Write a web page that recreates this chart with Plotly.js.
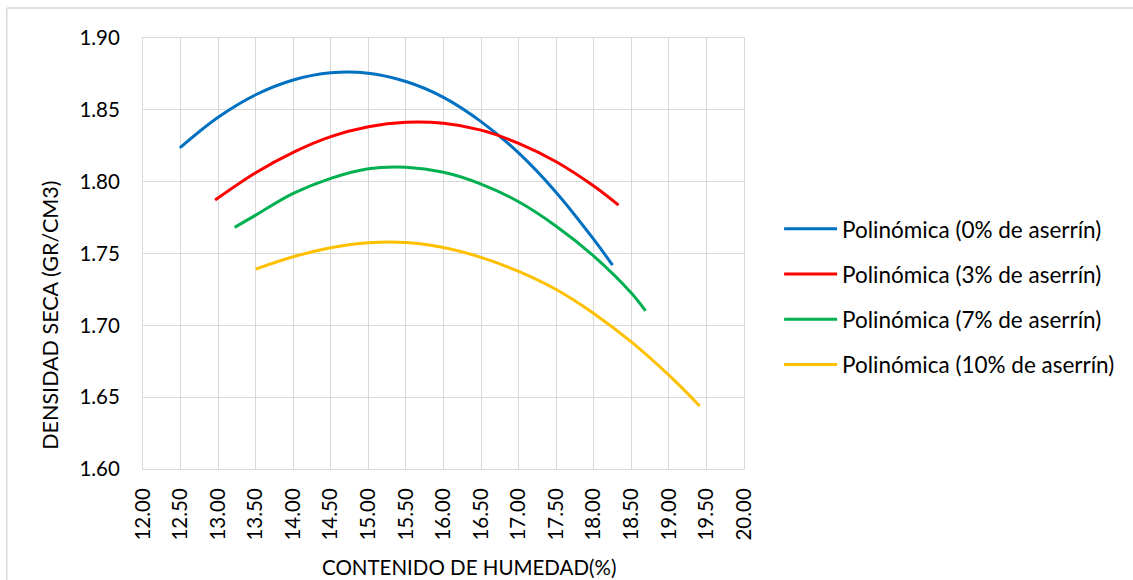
<!DOCTYPE html>
<html>
<head>
<meta charset="utf-8">
<script src="https://cdn.plot.ly/plotly-3.0.1.min.js"></script>
<style>
html,body{margin:0;padding:0;background:#fff;}
#chart{width:1133px;height:580px;}
</style>
</head>
<body>
<div id="chart"></div>
<script>
// Trendline readings (humidity %, dry density g/cm3)
const x0 = [12.49, 13.0, 13.5, 14.0, 14.5, 15.0, 15.5, 16.0, 16.5, 17.0, 17.5, 18.0, 18.25];
const y0 = [1.8235, 1.8448, 1.8605, 1.8708, 1.8758, 1.8755, 1.8697, 1.8587, 1.8418, 1.8200, 1.7925, 1.7598, 1.7419];

const x3 = [12.96, 13.5, 14.0, 14.5, 15.0, 15.5, 16.0, 16.5, 17.0, 17.5, 18.0, 18.33];
const y3 = [1.7872, 1.8062, 1.8204, 1.8313, 1.8382, 1.8413, 1.8406, 1.8359, 1.8267, 1.8139, 1.7970, 1.7837];

const x7 = [13.22, 13.5, 14.0, 14.5, 15.0, 15.5, 16.0, 16.5, 17.0, 17.5, 18.0, 18.5, 18.69];
const y7 = [1.7682, 1.7767, 1.7918, 1.8023, 1.8090, 1.8100, 1.8065, 1.7983, 1.7860, 1.7690, 1.7482, 1.7225, 1.7100];

const x10 = [13.50, 14.0, 14.5, 15.0, 15.5, 16.0, 16.5, 17.0, 17.5, 18.0, 18.5, 19.0, 19.41];
const y10 = [1.7391, 1.7477, 1.7540, 1.7575, 1.7577, 1.7542, 1.7473, 1.7375, 1.7249, 1.7083, 1.6885, 1.6653, 1.6439];

const seriesNames = ["Polinómica (0% de aserrín)", "Polinómica (3% de aserrín)", "Polinómica (7% de aserrín)", "Polinómica (10% de aserrín)"];
const seriesColors = ["#0070C0", "#FF0000", "#00B050", "#FFC000"];
const xTickVals = [12.0, 12.5, 13.0, 13.5, 14.0, 14.5, 15.0, 15.5, 16.0, 16.5, 17.0, 17.5, 18.0, 18.5, 19.0, 19.5, 20.0];
const yTickVals = [1.60, 1.65, 1.70, 1.75, 1.80, 1.85, 1.90];
const xTitle = 'CONTENIDO DE HUMEDAD(%)';
const yTitle = 'DENSIDAD SECA (GR/CM3)';

const xs = [x0, x3, x7, x10];
const ys = [y0, y3, y7, y10];

const FONT = "Lato, 'Open Sans', sans-serif";

const traces = xs.map((xv, i) => ({
  x: xv, y: ys[i], type: 'scatter', mode: 'lines',
  name: seriesNames[i],
  legendgroup: 'g' + i,
  line: {color: seriesColors[i], width: 3, shape: 'spline', smoothing: 1},
  hoverinfo: 'x+y+name'
}));

const layout = {
  width: 1133, height: 580,
  margin: {l: 143.3, r: 388.5, t: 38, b: 111, pad: 0, autoexpand: false},
  paper_bgcolor: '#ffffff', plot_bgcolor: '#ffffff',
  font: {family: FONT, size: 20, color: '#000000'},
  showlegend: true,
  legend: {
    x: 1.0584, y: 0.40, xanchor: 'left', yanchor: 'middle',
    font: {family: FONT, size: 22.5, color: '#000000'},
    traceorder: 'grouped', tracegroupgap: 13,
    itemwidth: 53, bgcolor: 'rgba(0,0,0,0)'
  },
  xaxis: {
    range: [12, 20], tickvals: xTickVals, tickformat: '.2f',
    tickangle: -90, showgrid: true, gridcolor: '#D9D9D9', gridwidth: 1,
    showline: true, linecolor: '#D9D9D9', linewidth: 1, mirror: true,
    zeroline: false, ticks: '', ticklabelstandoff: 10, automargin: false,
    tickfont: {family: FONT, size: 20.5, color: '#000'}
  },
  yaxis: {
    range: [1.60, 1.90], tickvals: yTickVals, tickformat: '.2f',
    showgrid: true, gridcolor: '#D9D9D9', gridwidth: 1,
    showline: true, linecolor: '#D9D9D9', linewidth: 1, mirror: true,
    zeroline: false, ticks: '', ticklabelstandoff: 18, automargin: false,
    tickfont: {family: FONT, size: 20.5, color: '#000'}
  },
  annotations: [
    {text: xTitle, xref: 'paper', yref: 'paper', x: 0.5426, y: -0.2274, xanchor: 'center', yanchor: 'middle',
     showarrow: false, font: {family: FONT, size: 20.5, color: '#000'}},
    {text: yTitle, xref: 'paper', yref: 'paper', x: -0.1552, y: 0.3573, xanchor: 'center', yanchor: 'middle',
     textangle: -90, showarrow: false, font: {family: FONT, size: 21.5, color: '#000'}}
  ],
  shapes: [
    {type: 'line', xref: 'paper', yref: 'paper', x0: -0.2267, x1: 1.7, y0: 1.0696, y1: 1.0696, line: {color: '#D9D9D9', width: 1.5}},
    {type: 'line', xref: 'paper', yref: 'paper', x0: -0.2267, x1: -0.2267, y0: -0.3, y1: 1.0696, line: {color: '#D9D9D9', width: 1.5}}
  ]
};

Plotly.newPlot('chart', traces, layout, {displayModeBar: false, staticPlot: true});
</script>
</body>
</html>
